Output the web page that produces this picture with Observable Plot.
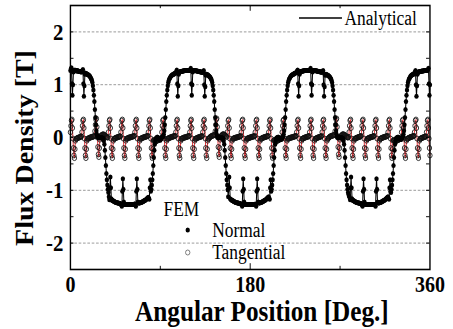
<!DOCTYPE html>
<html><head><meta charset="utf-8">
<script src="https://cdn.jsdelivr.net/npm/d3@7"></script>
<script src="https://cdn.jsdelivr.net/npm/@observablehq/plot@0.6"></script>
<style>html,body{margin:0;padding:0;background:#fff;overflow:hidden}</style>
</head><body><div id="chart"></div>
<script>
// angular step of the samples (degrees)
const stepDeg = 0.5;

// Normal flux density [T], 0..360 deg every 0.5 deg (one line = 10 deg)
const normalB = [
1.27,1.3,1.32,1.02,.8,1,1.24,1.27,1.27,1.28,1.27,1.27,1.26,1.26,1.27,1.26,1.26,1.25,1.25,1.25,
1.25,1.24,1.24,1.25,1.27,1.29,1.02,.78,.98,1.2,1.22,1.21,1.21,1.2,1.2,1.19,1.19,1.18,1.17,1.16,
1.14,1.12,1.11,1.08,1.04,.98,.9,.8,.68,.53,.38,.24,.13,.06,.02,.01,0,-.01,0,.01,
0,-.01,-.01,0,-.01,-.02,-.02,-.06,-.13,-.24,-.38,-.53,-.68,-.8,-.9,-.98,-1.04,-1.12,-1.18,-.95,
-.75,-.95,-1.16,-1.19,-1.19,-1.2,-1.2,-1.21,-1.21,-1.22,-1.22,-1.23,-1.23,-1.23,-1.24,-1.24,-1.24,-1.24,-1.25,-1.25,
-1.25,-1.26,-1.28,-1.3,-1.02,-.78,-.98,-1.22,-1.26,-1.27,-1.27,-1.27,-1.27,-1.27,-1.27,-1.27,-1.27,-1.27,-1.27,-1.27,
-1.27,-1.27,-1.27,-1.27,-1.27,-1.27,-1.27,-1.27,-1.26,-1.26,-1.28,-1.3,-1.02,-.78,-.98,-1.22,-1.24,-1.24,-1.24,-1.24,
-1.23,-1.23,-1.23,-1.22,-1.22,-1.21,-1.21,-1.2,-1.2,-1.19,-1.19,-1.18,-1.17,-1.16,-1.15,-1.14,-1.13,-1.15,-1.17,-.95,
-.8,-1.02,-.98,-.9,-.8,-.68,-.53,-.38,-.24,-.13,-.06,-.02,-.01,0,.01,0,-.01,-.02,-.03,-.04,
-.05,-.03,-.01,0,.01,.01,.02,.06,.13,.24,.38,.53,.68,.8,.9,.98,1.04,1.08,1.11,1.12,
1.14,1.16,1.17,1.18,1.19,1.19,1.2,1.2,1.21,1.21,1.22,1.22,1.25,1.28,1.02,.78,.98,1.2,1.24,1.24,
1.25,1.25,1.25,1.25,1.26,1.26,1.26,1.26,1.27,1.27,1.27,1.27,1.27,1.27,1.27,1.27,1.27,1.27,1.27,1.27,
1.29,1.31,1.02,.8,1,1.24,1.27,1.27,1.27,1.27,1.27,1.27,1.26,1.26,1.26,1.26,1.25,1.25,1.25,1.25,
1.24,1.24,1.24,1.24,1.23,1.23,1.25,1.27,1,.78,.96,1.18,1.2,1.2,1.19,1.19,1.18,1.17,1.16,1.15,
1.14,1.12,1.11,1.08,1.04,.98,.9,.8,.68,.53,.38,.24,.13,.06,.02,.01,0,-.01,0,.01,
0,-.01,-.01,0,-.01,-.02,-.02,-.06,-.13,-.24,-.38,-.53,-.68,-.8,-.9,-.99,-1.12,-.95,-.75,-.95,
-1.16,-1.17,-1.18,-1.19,-1.19,-1.2,-1.2,-1.21,-1.21,-1.22,-1.22,-1.23,-1.23,-1.23,-1.24,-1.24,-1.24,-1.24,-1.25,-1.25,
-1.25,-1.26,-1.26,-1.28,-1.3,-1.02,-.78,-.98,-1.22,-1.26,-1.27,-1.27,-1.27,-1.27,-1.27,-1.27,-1.27,-1.27,-1.27,-1.27,
-1.27,-1.27,-1.27,-1.27,-1.27,-1.27,-1.27,-1.27,-1.27,-1.27,-1.26,-1.28,-1.3,-1.02,-.78,-.98,-1.22,-1.24,-1.24,-1.24,
-1.23,-1.23,-1.23,-1.22,-1.22,-1.21,-1.21,-1.2,-1.2,-1.19,-1.19,-1.18,-1.17,-1.16,-1.15,-1.14,-1.13,-1.12,-1.15,-1.17,
-.95,-.8,-1.02,-.98,-.9,-.8,-.68,-.53,-.38,-.24,-.13,-.06,-.02,-.01,0,0,.01,0,-.01,-.02,
-.03,-.04,-.04,-.03,-.01,0,.02,.06,.13,.24,.38,.53,.68,.8,.9,.98,1.04,1.08,1.11,1.12,
1.14,1.16,1.17,1.18,1.19,1.19,1.2,1.2,1.21,1.21,1.22,1.22,1.23,1.23,1.26,1.28,1.02,.78,.98,1.2,
1.25,1.25,1.25,1.25,1.26,1.26,1.26,1.26,1.27,1.27,1.27,1.27,1.27,1.27,1.27,1.27,1.27,1.27,1.27,1.27,
1.29,1.31,1.02,.8,1,1.24,1.27,1.27,1.27,1.27,1.27,1.27,1.26,1.26,1.26,1.26,1.25,1.25,1.25,1.25,
1.24,1.24,1.24,1.24,1.23,1.25,1.27,1,.78,.96,1.18,1.2,1.2,1.19,1.19,1.18,1.18,1.17,1.16,1.15,
1.14,1.12,1.11,1.08,1.04,.98,.9,.8,.68,.53,.38,.24,.13,.06,.02,.01,0,-.01,0,.01,
0,-.01,-.01,0,-.01,-.02,-.02,-.06,-.13,-.24,-.38,-.53,-.68,-.8,-.9,-.98,-1.04,-1.08,-1.11,-1.13,
-1.18,-.95,-.75,-.95,-1.16,-1.19,-1.19,-1.2,-1.2,-1.21,-1.21,-1.22,-1.22,-1.23,-1.23,-1.23,-1.24,-1.24,-1.24,-1.24,
-1.25,-1.25,-1.25,-1.26,-1.28,-1.3,-1.02,-.78,-.98,-1.22,-1.26,-1.27,-1.27,-1.27,-1.27,-1.27,-1.27,-1.27,-1.27,-1.27,
-1.27,-1.27,-1.27,-1.27,-1.27,-1.27,-1.27,-1.27,-1.27,-1.27,-1.28,-1.3,-1.02,-.78,-.98,-1.22,-1.24,-1.24,-1.24,-1.23,
-1.23,-1.23,-1.22,-1.22,-1.21,-1.21,-1.2,-1.2,-1.19,-1.19,-1.18,-1.17,-1.16,-1.15,-1.14,-1.13,-1.12,-1.15,-1.17,-.95,
-.8,-1.02,-1.04,-.98,-.9,-.8,-.68,-.53,-.38,-.24,-.13,-.06,-.02,-.01,0,0,.01,0,-.01,-.02,
-.03,-.04,-.04,-.03,-.01,0,.02,.06,.13,.24,.38,.53,.68,.8,.9,.98,1.04,1.08,1.11,1.12,
1.14,1.16,1.17,1.18,1.19,1.19,1.2,1.2,1.21,1.21,1.24,1.27,1,.78,.98,1.2,1.24,1.24,1.24,1.25,
1.25,1.25,1.25,1.26,1.26,1.26,1.26,1.26,1.27,1.27,1.27,1.27,1.27,1.27,1.27,1.27,1.29,1.31,1.02,.8,
1
];

// Tangential flux density [T], 0..360 deg every 0.5 deg (one line = 10 deg)
const tangentialB = [
.1,.22,.32,.34,.18,-.02,-.2,-.34,-.39,-.22,-.06,-.03,-.02,-.02,-.01,-.01,0,0,0,.01,
.01,.02,.02,.1,.22,.32,.34,.18,-.02,-.2,-.34,-.39,-.22,-.06,-.03,-.02,-.02,-.01,-.01,0,
0,0,.01,.01,.01,.02,.02,.02,.03,.12,.24,.34,.36,.2,0,-.18,-.32,-.37,-.2,-.04,
.02,.03,.04,.05,.05,.06,.06,.05,.05,.04,.03,.02,.01,.01,0,0,.1,.22,.32,.34,
.18,-.02,-.2,-.34,-.39,-.22,-.06,-.03,-.02,-.02,-.01,-.01,0,0,0,.01,.01,.01,.02,.02,
.02,.1,.22,.32,.34,.18,-.02,-.2,-.34,-.39,-.22,-.06,-.03,-.02,-.02,-.01,-.01,0,0,0,
0,.01,.01,.01,.02,.02,.02,.03,.03,.1,.22,.32,.34,.18,-.02,-.2,-.34,-.39,-.22,-.06,
-.03,-.02,-.02,-.01,-.01,0,0,0,.01,.01,.01,.02,.02,.02,.03,.03,.1,.22,.32,.34,
.18,-.02,-.2,-.34,-.39,-.22,-.06,-.05,-.05,-.06,-.06,-.07,-.07,-.06,-.06,-.05,-.05,-.04,-.04,-.03,
-.02,-.02,-.01,.1,.22,.32,.34,.18,-.02,-.2,-.34,-.39,-.22,-.06,-.03,-.02,-.02,-.01,-.01,0,
0,0,.01,.01,.01,.02,.02,.02,.03,.03,.03,.1,.22,.32,.34,.18,-.02,-.2,-.34,-.39,
-.22,-.06,-.03,-.02,-.02,-.01,-.01,0,0,0,0,.01,.01,.01,.02,.02,.02,.03,.03,.1,
.22,.32,.34,.18,-.02,-.2,-.34,-.39,-.22,-.06,-.03,-.02,-.02,-.01,-.01,0,0,0,.01,.01,
.01,.02,.02,.02,.03,.1,.22,.32,.34,.18,-.02,-.2,-.34,-.39,-.22,-.06,-.03,-.02,-.01,0,
.01,.02,.02,.03,.03,.04,.04,.04,.05,.05,.12,.24,.34,.36,.2,0,-.18,-.32,-.37,-.2,
-.04,.02,.03,.04,.05,.06,.06,.06,.05,.05,.04,.03,.02,.01,.1,.22,.32,.34,.18,-.02,
-.2,-.34,-.39,-.22,-.06,-.03,-.02,-.02,-.01,-.01,-.01,0,0,0,0,.01,.01,.01,.02,.02,
.02,.03,.1,.22,.32,.34,.18,-.02,-.2,-.34,-.39,-.22,-.06,-.03,-.02,-.02,-.01,-.01,-.01,0,
0,0,.01,.01,.01,.02,.02,.02,.02,.03,.1,.22,.32,.34,.18,-.02,-.2,-.34,-.39,-.22,
-.06,-.03,-.02,-.02,-.01,-.01,0,0,0,.01,.01,.01,.02,.02,.02,.03,.03,.1,.22,.32,
.34,.18,-.02,-.2,-.34,-.39,-.22,-.06,-.05,-.05,-.06,-.06,-.07,-.07,-.06,-.06,-.05,-.05,-.04,-.04,
-.03,-.02,-.02,-.01,.1,.22,.32,.34,.18,-.02,-.2,-.34,-.39,-.22,-.06,-.03,-.02,-.02,-.01,-.01,
-.01,0,0,0,0,.01,.01,.01,.02,.02,.02,.03,.03,.1,.22,.32,.34,.18,-.02,-.2,
-.34,-.39,-.22,-.06,-.03,-.02,-.02,-.01,-.01,0,0,0,.01,.01,.01,.02,.02,.02,.03,.1,
.22,.32,.34,.18,-.02,-.2,-.34,-.39,-.22,-.06,-.03,-.02,-.02,-.01,-.01,0,0,0,.01,.01,
.01,.02,.02,.03,.1,.22,.32,.34,.18,-.02,-.2,-.34,-.39,-.22,-.06,-.03,-.02,-.01,0,.01,
.02,.02,.03,.03,.03,.04,.04,.04,.05,.05,.12,.24,.34,.36,.2,0,-.18,-.32,-.37,-.2,
-.04,.02,.03,.04,.05,.06,.06,.06,.05,.05,.04,.03,.02,.01,.01,0,0,.01,.1,.22,
.32,.34,.18,-.02,-.2,-.34,-.39,-.22,-.06,-.03,-.02,-.02,-.01,-.01,0,0,0,.01,.01,.01,
.02,.02,.03,.1,.22,.32,.34,.18,-.02,-.2,-.34,-.39,-.22,-.06,-.03,-.02,-.02,-.01,-.01,0,
0,0,.01,.01,.01,.02,.02,.02,.03,.1,.22,.32,.34,.18,-.02,-.2,-.34,-.39,-.22,-.06,
-.03,-.02,-.02,-.01,-.01,0,0,0,.01,.01,.01,.02,.02,.02,.03,.03,.1,.22,.32,.34,
.18,-.02,-.2,-.34,-.39,-.22,-.06,-.05,-.05,-.06,-.06,-.07,-.07,-.06,-.06,-.05,-.05,-.04,-.04,-.03,
-.02,-.02,-.01,.1,.22,.32,.34,.18,-.02,-.2,-.34,-.39,-.22,-.06,-.03,-.02,-.02,-.01,-.01,0,
0,.01,.01,.01,.02,.02,.02,.03,.03,.1,.22,.32,.34,.18,-.02,-.2,-.34,-.39,-.22,-.06,
-.03,-.02,-.02,-.01,-.01,0,0,0,.01,.01,.01,.02,.02,.1,.22,.32,.34,.18,-.02,-.2,
-.34
];

const xTickLabels = [0, 180, 360];
const xMinorTicks = [90, 270];
const yTickLabels = [-2, -1, 0, 1, 2];
const yTickMarks = [-2, -1.5, -1, -0.5, 0, 0.5, 1, 1.5, 2];
const gridLines = [-2, -1, 1, 2];

const rows = normalB.map((n, i) => ({angle: i * stepDeg, normal: n, tangential: tangentialB[i]}));

const W = 521, H = 329, OUTW = 453;
const serif = "'Liberation Serif','Times New Roman',serif";

function legendSymbols() {
  const g = d3.create("svg:g");
  g.append("line").attr("x1", 343.9).attr("x2", 393.3).attr("y1", 18).attr("y2", 18)
    .attr("stroke", "black").attr("stroke-width", 1.3);
  g.append("circle").attr("cx", 215.9).attr("cy", 230).attr("r", 2.5).attr("fill", "black");
  g.append("circle").attr("cx", 215.9).attr("cy", 252.5).attr("r", 2.5)
    .attr("fill", "none").attr("stroke", "#666").attr("stroke-width", 0.9);
  return g.node();
}

const tick = {stroke: "black", strokeWidth: 1};
const plot = Plot.plot({
  width: W, height: H,
  marginLeft: 80.5, marginRight: 27, marginTop: 5, marginBottom: 60,
  x: {domain: [0, 360], axis: null},
  y: {domain: [-2.5, 2.5], axis: null},
  style: {fontFamily: serif, background: "white", color: "black", overflow: "visible"},
  marks: [
    Plot.ruleY(gridLines, {stroke: "#888", strokeWidth: 0.9, strokeDasharray: "3,2"}),
    Plot.line(rows, {x: "angle", y: "tangential", stroke: "#e3262b", strokeWidth: 1}),
    Plot.dot(rows, {x: "angle", y: "tangential", r: 2.5, fill: "none", stroke: "#111", strokeWidth: 0.9}),
    Plot.line(rows, {x: "angle", y: "normal", stroke: "black", strokeWidth: 1.2}),
    Plot.dot(rows, {x: "angle", y: "normal", r: 2.5, fill: "black", stroke: "none"}),
    Plot.ruleX(xMinorTicks, {y1: -2.5, y2: -2.44, ...tick}),
    Plot.ruleX([180], {y1: -2.5, y2: -2.39, ...tick}),
    Plot.ruleX(xMinorTicks, {y1: 2.5, y2: 2.44, ...tick}),
    Plot.ruleX([180], {y1: 2.5, y2: 2.39, ...tick}),
    Plot.ruleY(yTickMarks, {x1: 0, x2: 3.5, ...tick}),
    Plot.ruleY(yTickMarks, {x1: 360, x2: 356.5, ...tick}),
    Plot.frame({stroke: "black", strokeWidth: 1.6}),
    Plot.text(xTickLabels, {x: d => d, frameAnchor: "bottom", dy: 15, text: d => String(d),
      fontSize: 23, fontWeight: "bold", lineAnchor: "middle"}),
    Plot.text(yTickLabels, {y: d => d, frameAnchor: "left", dx: -8, textAnchor: "end",
      text: d => String(d), fontSize: 24, fontWeight: "bold", lineAnchor: "middle"}),
    Plot.text(["Angular Position [Deg.]"], {frameAnchor: "bottom", dx: 13.5, dy: 42,
      fontSize: 29, fontWeight: "bold", lineAnchor: "middle"}),
    Plot.text(["Flux Density [T]"], {frameAnchor: "left", rotate: -90, dx: -51.7, dy: 10.5,
      textAnchor: "middle", fontSize: 28, fontWeight: "bold", lineAnchor: "middle"}),
    Plot.text(["Analytical"], {frameAnchor: "top-right", dx: -98.4, dy: 13, textAnchor: "start",
      fontSize: 20, lineAnchor: "middle"}),
    Plot.text(["FEM"], {frameAnchor: "top-left", dx: 107, dy: 204, textAnchor: "start", fontSize: 20, lineAnchor: "middle"}),
    Plot.text(["Normal"], {frameAnchor: "top-left", dx: 163, dy: 225, textAnchor: "start", fontSize: 20, lineAnchor: "middle"}),
    Plot.text(["Tangential"], {frameAnchor: "top-left", dx: 163, dy: 247, textAnchor: "start", fontSize: 20, lineAnchor: "middle"}),
    legendSymbols
  ]
});

plot.setAttribute("width", OUTW);
plot.setAttribute("height", H);
plot.setAttribute("preserveAspectRatio", "none");
plot.style.width = OUTW + "px";
plot.style.height = H + "px";
plot.style.maxWidth = "none";
document.getElementById("chart").appendChild(plot);
</script>
</body></html>
